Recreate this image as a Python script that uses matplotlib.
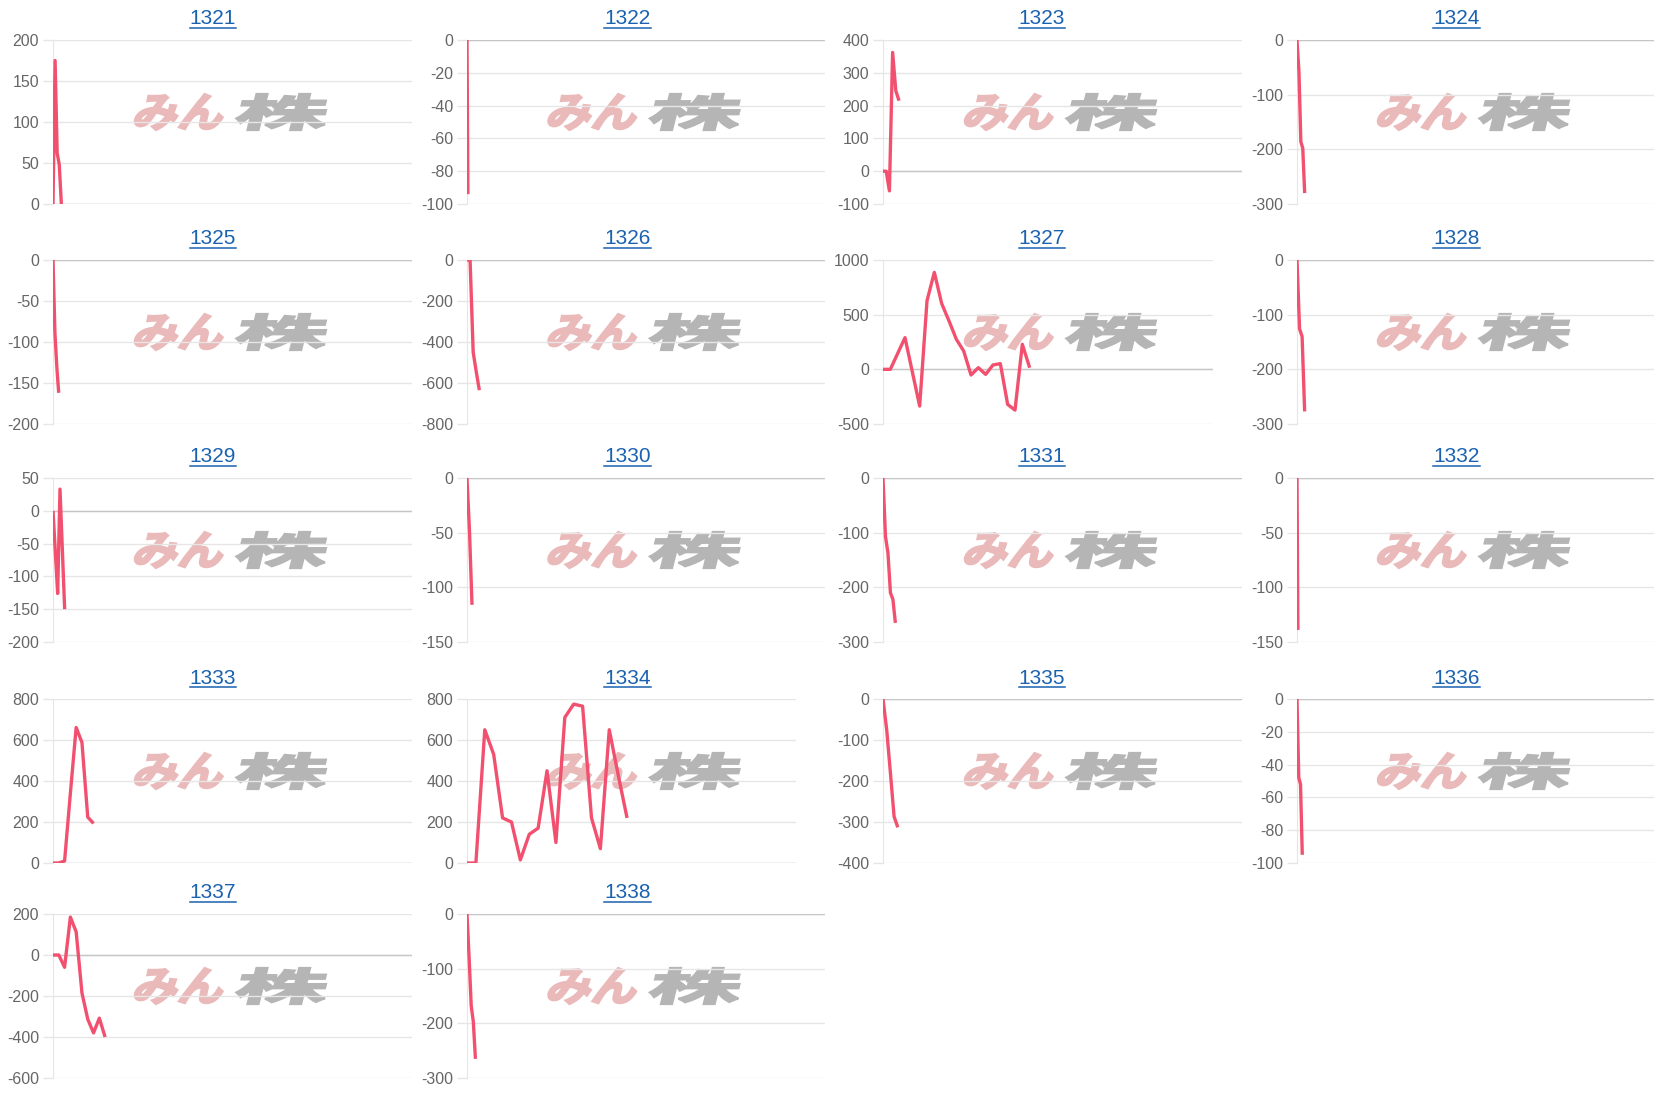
"""
Painel de mini-gráficos de linha por código (1321-1338), estilo página web.
"""

import numpy as np
import matplotlib
matplotlib.use('Agg')
import matplotlib.pyplot as plt
from matplotlib.font_manager import FontProperties
from matplotlib.textpath import TextPath
from matplotlib.patches import PathPatch
from matplotlib.transforms import Affine2D
from matplotlib.lines import Line2D

plt.rcParams['font.family'] = ['Liberation Sans', 'DejaVu Sans']
plt.rcParams['axes.unicode_minus'] = False

# Dados
codes = ['1321', '1322', '1323', '1324', '1325', '1326', '1327', '1328', '1329',
         '1330', '1331', '1332', '1333', '1334', '1335', '1336', '1337', '1338']

v1321 = [0, 175, 62, 48, 0]
v1322 = [0, -94]
v1323 = [0, 0, -60, 362, 245, 215]
v1324 = [0, -57, -186, -198, -280]
v1325 = [0, -88, -130, -162]
v1326 = [0, 0, -450, -545, -635]
v1327 = [0, 0, 145, 290, -23, -336, 627, 887, 602, 443, 275, 168, -52, 15, -46,
         40, 52, -321, -373, 229, 15]
v1328 = [0, -126, -140, -277]
v1329 = [0, -63, -126, 33, -58, -150]
v1330 = [0, -49, -116]
v1331 = [0, -107, -137, -210, -222, -265]
v1332 = [0, -139]
v1333 = [0, 0, 10, 340, 661, 588, 224, 193]
v1334 = [0, 0, 650, 530, 220, 200, 15, 140, 170, 450, 100, 710, 775, 765, 220,
         70, 650, 430, 220]
v1335 = [0, -75, -180, -287, -313]
v1336 = [0, -48, -52, -95]
v1337 = [0, 0, -60, 185, 113, -185, -313, -380, -308, -400]
v1338 = [0, -80, -168, -197, -265]

series = [v1321, v1322, v1323, v1324, v1325, v1326, v1327, v1328, v1329,
          v1330, v1331, v1332, v1333, v1334, v1335, v1336, v1337, v1338]

# quantidade de categorias no eixo x de cada gráfico
x_count = [173, 400, 113, 187, 190, 117, 46, 141, 155, 144, 146, 400, 63, 38, 98, 204, 63, 171]

y_min = [0, -100, -100, -300, -200, -800, -500, -300, -200, -150, -300, -150, 0, 0, -400, -100, -600, -300]
y_max = [200, 0, 400, 0, 0, 0, 1000, 0, 50, 0, 0, 0, 800, 800, 0, 0, 200, 0]
y_step = [50, 20, 100, 100, 50, 200, 500, 100, 50, 50, 100, 50, 200, 200, 100, 20, 200, 100]

# Layout em pixels
W, H = 1660, 1095
col_left = [53, 467, 883, 1297]
col_right = [412, 825, 1242, 1654]
row_top = [40, 260, 478, 699, 914]
plot_h = 164
right_override = {'1327': 1213, '1334': 796}

LINE_COLOR = '#f2506f'
GRID_COLOR = '#e6e6e6'
ZERO_COLOR = '#c6c6c6'
TITLE_COLOR = '#1a62b0'

logo_font = FontProperties(family='Noto Sans CJK JP', weight='bold')


def add_logo_part(fig, text, x0, x1, y0, y1, color, skew=14):
    """Desenha parte da marca d'água esticada na caixa (x0..x1, y0..y1) em px da imagem."""
    tp = TextPath((0, 0), text, size=100, prop=logo_font)
    bb = tp.get_extents()
    h = y1 - y0
    w = (x1 - x0) - h * np.tan(np.radians(skew))
    tr = (Affine2D().translate(-bb.x0, -bb.y0)
          .scale(w / bb.width, h / bb.height)
          .skew_deg(skew, 0)
          .translate(x0, H - y1)
          .scale(1.0 / W, 1.0 / H))
    # contorno da mesma cor para engrossar o traço
    patch = PathPatch(tr.transform_path(tp), facecolor=color, edgecolor=color,
                      linewidth=1.6, joinstyle='miter',
                      transform=fig.transFigure, zorder=-5)
    fig.add_artist(patch)


fig = plt.figure(figsize=(W / 100, H / 100), dpi=100)
fig.patch.set_facecolor('white')

titles = []
for i, code in enumerate(codes):
    r, c = divmod(i, 4)
    left = col_left[c]
    right = right_override.get(code, col_right[c])
    top = row_top[r]

    # marca d'água (fundo)
    cx = (col_left[c] + col_right[c]) / 2
    cy = top + 72
    add_logo_part(fig, 'みん', cx - 100, cx - 4, cy - 18, cy + 18, '#eab9b9')
    add_logo_part(fig, '株', cx + 1, cx + 100, cy - 18, cy + 18, '#b5b5b5')

    ax = fig.add_axes([left / W, 1 - (top + plot_h) / H, (right - left) / W, plot_h / H])
    ax.set_facecolor('none')

    vals = series[i]
    ax.plot(range(len(vals)), vals, color=LINE_COLOR, linewidth=2.4,
            solid_joinstyle='round', solid_capstyle='butt', zorder=3)

    ax.set_xlim(0, x_count[i] - 1)
    ax.set_ylim(y_min[i], y_max[i])
    ax.set_yticks(np.arange(y_min[i], y_max[i] + y_step[i] / 2, y_step[i]))
    ax.set_xticks([])
    ax.yaxis.grid(True, color=GRID_COLOR, linewidth=1)
    ax.axhline(0, color=ZERO_COLOR, linewidth=1, zorder=2)
    ax.set_axisbelow(True)

    for side in ['top', 'right', 'bottom']:
        ax.spines[side].set_visible(False)
    ax.spines['left'].set_color(GRID_COLOR)
    ax.tick_params(axis='y', labelsize=11.5, labelcolor='#666666', length=7,
                   color=GRID_COLOR, width=1, pad=3)

    t = fig.text((213 + c * 414.5) / W, 1 - (top - 21) / H, code, ha='center', va='center',
                 color=TITLE_COLOR, fontsize=15)
    titles.append((t, top))

# Sublinhado dos títulos (estilo link)
fig.canvas.draw()
renderer = fig.canvas.get_renderer()
for t, top in titles:
    bb = t.get_window_extent(renderer)
    yl = 1 - (top - 12) / H
    fig.add_artist(Line2D([bb.x0 / W, bb.x1 / W], [yl, yl], color=TITLE_COLOR,
                          linewidth=1.1, transform=fig.transFigure))

fig.savefig('out.png', dpi=100, facecolor='white')
plt.close(fig)
